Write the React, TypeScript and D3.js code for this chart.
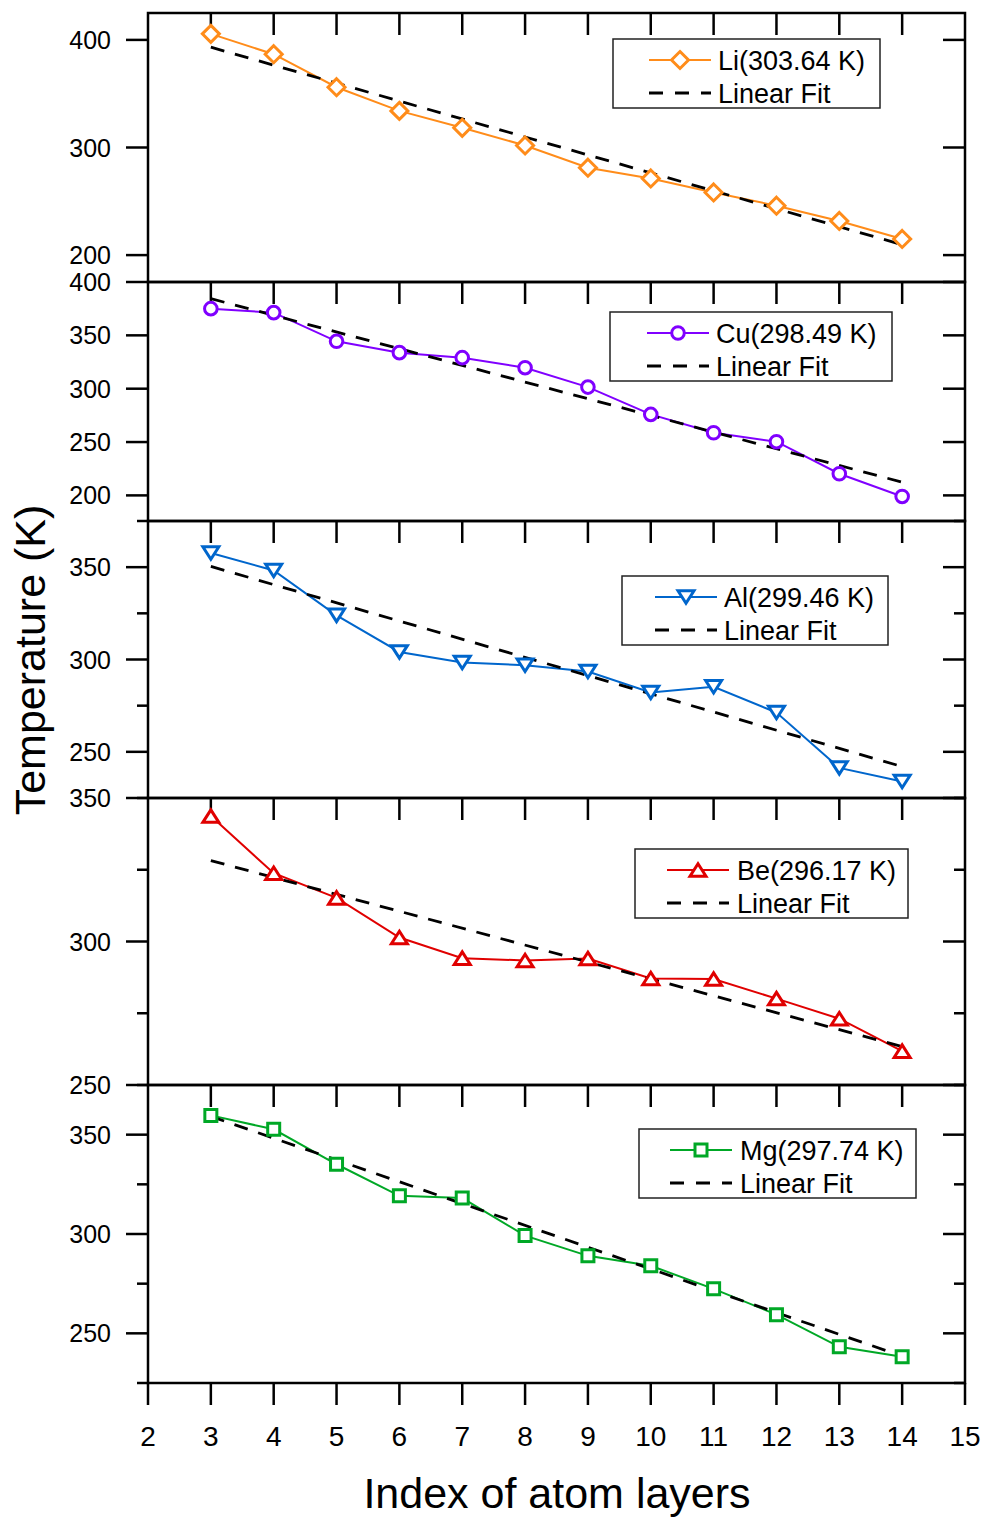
import React from "react";
import * as d3 from "d3";

// ---------- data ----------
const layers = [3, 4, 5, 6, 7, 8, 9, 10, 11, 12, 13, 14];
const xTickValues = [2, 3, 4, 5, 6, 7, 8, 9, 10, 11, 12, 13, 14, 15];

const liTemps = [405.6, 386.7, 356.0, 334.0, 318.3, 301.9, 281.2, 271.2, 258.2, 245.9, 231.7, 215.0];
const cuTemps = [375.0, 371.3, 344.4, 333.8, 329.1, 319.7, 301.5, 275.9, 258.7, 250.3, 220.3, 199.0];
const alTemps = [357.7, 348.2, 323.9, 304.1, 298.4, 296.9, 293.5, 282.1, 285.2, 271.3, 241.3, 233.9];
const beTemps = [343.7, 323.8, 315.2, 301.4, 294.2, 293.4, 294.1, 287.1, 286.9, 280.1, 273.1, 261.8];
const mgTemps = [359.7, 352.7, 335.1, 319.2, 318.1, 299.2, 289.0, 284.0, 272.4, 259.4, 243.2, 238.2];

// linear fit values at the first and last layer
const fitLayers = [3, 14];
const liFit = [393.2, 209.7];
const cuFit = [384.4, 212.4];
const alFit = [350.4, 242.0];
const beFit = [328.2, 263.4];
const mgFit = [359.2, 238.5];

const seriesNames = ["Li(303.64 K)", "Cu(298.49 K)", "Al(299.46 K)", "Be(296.17 K)", "Mg(297.74 K)"];
const fitName = "Linear Fit";

const yDomains = [
  [175, 425],
  [176, 400],
  [225, 375],
  [250, 350],
  [225, 375],
];
const yMajorTicks = [
  [400, 300, 200],
  [400, 350, 300, 250, 200],
  [350, 300, 250],
  [350, 300, 250],
  [350, 300, 250],
];
const yMinorTicks = [
  [],
  [],
  [375, 325, 275, 225],
  [325, 275],
  [375, 325, 275, 225],
];

const xTitle = "Index of atom layers";
const yTitle = "Temperature (K)";

// ---------- styles / layout ----------
const colors = ["#FF8C1A", "#8000FF", "#0066CC", "#E00000", "#00A826"];
const symbols = ["diamond", "circle", "triangleDown", "triangleUp", "square"];
const panelEdges = [13, 282, 521, 798, 1085, 1383];
const plotLeft = 148;
const plotRight = 965;
const FONT = "'Liberation Sans', Arial, Helvetica, sans-serif";
// legend boxes: [left, right, top]
const legendBoxes = [
  [613, 880, 39],
  [610, 892, 312],
  [622, 888, 576],
  [635, 908, 849],
  [639, 916, 1129],
];
const legendTextOffset = [105, 106, 102, 102, 101];
const legendLineOffset = [36, 37, 33, 32, 31];

const allTemps = [liTemps, cuTemps, alTemps, beTemps, mgTemps];
const allFits = [liFit, cuFit, alFit, beFit, mgFit];

function symbolPath(kind: string): string {
  switch (kind) {
    case "diamond": {
      const s = 8.5;
      return `M0,${-s}L${s},0L0,${s}L${-s},0Z`;
    }
    case "circle": {
      const r = 6.3;
      return `M${r},0A${r},${r},0,1,1,${-r},0A${r},${r},0,1,1,${r},0Z`;
    }
    case "triangleDown": {
      const w = 16, h = 12.5;
      return `M${-w / 2},${-h / 2}L${w / 2},${-h / 2}L0,${h / 2}Z`;
    }
    case "triangleUp": {
      const w = 16, h = 12.5;
      return `M${-w / 2},${h / 2}L${w / 2},${h / 2}L0,${-h / 2}Z`;
    }
    default: {
      const s = 6;
      return `M${-s},${-s}L${s},${-s}L${s},${s}L${-s},${s}Z`;
    }
  }
}

const x = d3.scaleLinear().domain([2, 15]).range([plotLeft, plotRight]);

function Panel({ i }: { i: number }) {
  const top = panelEdges[i];
  const bottom = panelEdges[i + 1];
  const y = d3.scaleLinear().domain(yDomains[i]).range([bottom, top]);
  const temps = allTemps[i];
  const fit = allFits[i];
  const color = colors[i];
  const line = d3
    .line<number>()
    .x((_, k) => x(layers[k]))
    .y((d) => y(d));
  const fitLine = d3
    .line<number>()
    .x((_, k) => x(fitLayers[k]))
    .y((d) => y(d));
  const [lx0, lx1, ly0] = legendBoxes[i];
  const row1 = ly0 + 21;
  const row2 = ly0 + 54;
  const ls = lx0 + legendLineOffset[i];
  const le = ls + 62;
  const lt = lx0 + legendTextOffset[i];
  const clipId = `clip${i}`;
  return (
    <g>
      <defs>
        <clipPath id={clipId}>
          <rect x={plotLeft} y={top} width={plotRight - plotLeft} height={bottom - top} />
        </clipPath>
      </defs>
      {/* top inner ticks */}
      {layers.map((v) => (
        <line key={"tt" + v} x1={x(v)} x2={x(v)} y1={top} y2={top + 22} stroke="#000" strokeWidth={2.5} />
      ))}
      {/* y ticks */}
      {yMajorTicks[i].map((v) => (
        <g key={"ym" + v}>
          <line x1={plotLeft - 22} x2={plotLeft} y1={y(v)} y2={y(v)} stroke="#000" strokeWidth={2.5} />
          <line x1={plotRight - 22} x2={plotRight} y1={y(v)} y2={y(v)} stroke="#000" strokeWidth={2.5} />
          <text x={111} y={y(v)} dy="0.36em" textAnchor="end" fontSize={25} fontFamily={FONT} fill="#000">
            {v}
          </text>
        </g>
      ))}
      {yMinorTicks[i].map((v) => (
        <g key={"yn" + v}>
          <line x1={plotLeft - 11} x2={plotLeft} y1={y(v)} y2={y(v)} stroke="#000" strokeWidth={2.5} />
          <line x1={plotRight - 11} x2={plotRight} y1={y(v)} y2={y(v)} stroke="#000" strokeWidth={2.5} />
        </g>
      ))}
      <g clipPath={`url(#${clipId})`}>
        <path d={line(temps) || ""} fill="none" stroke={color} strokeWidth={2} />
        <path d={fitLine(fit) || ""} fill="none" stroke="#000" strokeWidth={2.8} strokeDasharray="14 11" />
      </g>
      {temps.map((v, k) => (
        <path
          key={"m" + k}
          d={symbolPath(symbols[i])}
          transform={`translate(${x(layers[k])},${y(v)})`}
          fill="#fff"
          stroke={color}
          strokeWidth={3}
        />
      ))}
      {/* legend */}
      <rect x={lx0} y={ly0} width={lx1 - lx0} height={69} fill="#fff" stroke="#222" strokeWidth={1.5} />
      <line x1={ls} x2={le} y1={row1} y2={row1} stroke={color} strokeWidth={2} />
      <path d={symbolPath(symbols[i])} transform={`translate(${(ls + le) / 2},${row1})`} fill="#fff" stroke={color} strokeWidth={3} />
      <text x={lt} y={row1} dy="0.36em" fontSize={27} fontFamily={FONT} fill="#000">
        {seriesNames[i]}
      </text>
      <line x1={ls} x2={le} y1={row2} y2={row2} stroke="#000" strokeWidth={2.8} strokeDasharray="14 12" />
      <text x={lt} y={row2} dy="0.36em" fontSize={27} fontFamily={FONT} fill="#000">
        {fitName}
      </text>
      <rect x={plotLeft} y={top} width={plotRight - plotLeft} height={bottom - top} fill="none" stroke="#000" strokeWidth={2.5} />
    </g>
  );
}

export default function App() {
  const bottom = panelEdges[panelEdges.length - 1];
  return (
    <svg
      width={987}
      height={1517}
      viewBox="0 0 987 1517"
      style={{ position: "absolute", left: 0, top: 0, background: "#fff" }}
    >
      <rect x={0} y={0} width={987} height={1517} fill="#fff" />
      {yDomains.map((_, i) => (
        <Panel key={i} i={i} />
      ))}
      {/* bottom x axis */}
      {xTickValues.map((v) => (
        <g key={"xt" + v}>
          <line x1={x(v)} x2={x(v)} y1={bottom} y2={bottom + 22} stroke="#000" strokeWidth={2.5} />
          <text x={x(v)} y={1436} dy="0.36em" textAnchor="middle" fontSize={28} fontFamily={FONT} fill="#000">
            {v}
          </text>
        </g>
      ))}
      <text x={557} y={1508} textAnchor="middle" fontSize={43} fontFamily={FONT} fill="#000">
        {xTitle}
      </text>
      <text
        transform={`translate(45,660) rotate(-90)`}
        textAnchor="middle"
        fontSize={43}
        fontFamily={FONT}
        fill="#000"
      >
        {yTitle}
      </text>
    </svg>
  );
}
